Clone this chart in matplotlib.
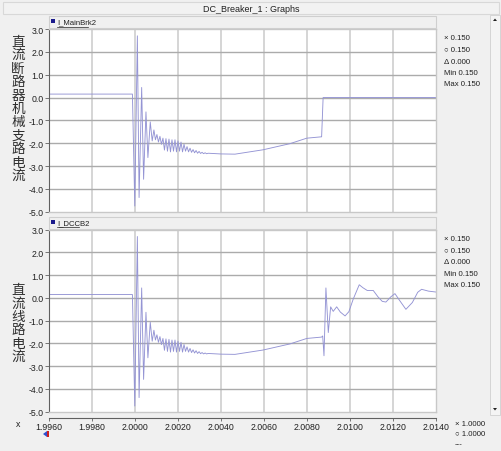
import matplotlib
matplotlib.use("Agg")
import matplotlib.pyplot as plt
from matplotlib.patches import Rectangle, Polygon

W, H = 502, 452
fig = plt.figure(figsize=(W/100, H/100), dpi=100)
fig.patch.set_facecolor('#f0f0f0')

def fx(x):
    return x / W

def fy(y):
    return 1 - y / H

# ---------------- data ----------------
title = "DC_Breaker_1 : Graphs"
xticks = [1.9960, 1.9980, 2.0000, 2.0020, 2.0040, 2.0060, 2.0080, 2.0100, 2.0120, 2.0140]
yticks = [3.0, 2.0, 1.0, 0.0, -1.0, -2.0, -3.0, -4.0, -5.0]
names = ["I_MainBrk2", "I_DCCB2"]
ylabels = ["直流断路器机械支路电流", "直流线路电流"]
info_lines = ["× 0.150", "○ 0.150", "Δ 0.000", "Min 0.150", "Max 0.150"]
x_info = ["× 1.0000", "○ 1.0000", "---"]

# shared part (both currents identical up to breaker action)
t_common = [1.9960, 1.99988, 1.99999, 2.00011, 2.00019, 2.00031, 2.00040, 2.00051,
            2.00060, 2.00071, 2.00080, 2.00088,
            2.00095, 2.00102, 2.00109, 2.00116, 2.00123, 2.00130, 2.00137, 2.00144,
            2.00151, 2.00158, 2.00165, 2.00172, 2.00179, 2.00186, 2.00193, 2.00200,
            2.00207, 2.00214, 2.00221, 2.00228, 2.00235, 2.00242, 2.00249, 2.00256,
            2.00263, 2.00270, 2.00277, 2.00284, 2.00291, 2.00298, 2.00305, 2.00312,
            2.00319, 2.00326, 2.00333, 2.00340, 2.00400, 2.00465, 2.00595, 2.00721,
            2.00799, 2.00868]
i_common = [0.15, 0.15, -4.75, 2.70, -4.38, 0.44, -3.58, -0.63,
            -2.63, -1.07, -1.90, -1.42,
            -1.85, -1.62, -1.95, -1.70, -2.05, -1.78, -2.30, -1.80,
            -2.35, -1.82, -2.38, -1.85, -2.35, -1.85, -2.38, -1.90,
            -2.35, -1.95, -2.38, -2.05, -2.35, -2.15, -2.38, -2.22,
            -2.40, -2.28, -2.42, -2.32, -2.44, -2.36, -2.45, -2.40,
            -2.46, -2.42, -2.46, -2.44, -2.47, -2.48, -2.29, -2.02,
            -1.78, -1.72]

# mechanical branch after commutation
t_mech_tail = [2.00875, 2.01400]
i_mech_tail = [0.0, 0.0]

# line current after breaker action
t_line_tail = [2.00873, 2.00879, 2.00888, 2.00899, 2.00910, 2.00922, 2.00938, 2.00955,
               2.00977, 2.00995, 2.01015, 2.01043, 2.01060, 2.01080, 2.01108, 2.01130,
               2.01150, 2.01167, 2.01190, 2.01209, 2.01230, 2.01260, 2.01290, 2.01315,
               2.01333, 2.01365, 2.01400]
i_line_tail = [-1.67, -2.54, 0.44, -1.52, -0.39, -0.59, -0.39, -0.62,
               -0.79, -0.60, -0.05, 0.58, 0.45, 0.33, 0.33, 0.05,
               -0.15, -0.18, 0.05, 0.19, -0.10, -0.50, -0.20, 0.25,
               0.38, 0.30, 0.26]

series = [(t_common + t_mech_tail, i_common + i_mech_tail),
          (t_common + t_line_tail, i_common + i_line_tail)]

# ---------------- layout ----------------
left_px, right_px = 49, 436
panels = [(30.0, 212.7), (230.7, 412.7)]
label_centers = [109, 323.5]
line_color = '#9494d4'
tick_font = dict(family='Liberation Sans', size=6.3, color='#202020')

# title bar
fig.add_artist(Rectangle((fx(3), fy(15)), fx(496), 12/H, transform=fig.transFigure,
                         facecolor='#f2f2f2', edgecolor='#d8d8d8', lw=0.8))
fig.text(fx(251), fy(9.5), title, ha='center', va='center',
         fontsize=6.5, family='Liberation Sans', color='#202020')

for k, ((top, bot), (tt, ii)) in enumerate(zip(panels, series)):
    ax = fig.add_axes([fx(left_px), fy(bot), fx(right_px - left_px), (bot - top) / H])
    ax.set_facecolor('white')
    ax.plot(tt, ii, color=line_color, lw=0.65)
    ax.set_xlim(xticks[0], xticks[-1])
    ax.set_ylim(-5.0, 3.0)
    ax.set_xticks(xticks)
    ax.set_yticks(yticks)
    ax.set_yticklabels([f"{v:.1f}" for v in yticks], **tick_font)
    ax.tick_params(axis='x', length=0, labelbottom=False)
    ax.tick_params(axis='y', length=3, width=0.6, color='#606060', pad=1)
    for x in xticks[1:-1]:
        ax.axvline(x, color='#d2d2d2', lw=1.3, zorder=0)
    for y in yticks[1:-1]:
        ax.axhline(y, color='#ababab', lw=1.0, zorder=0)
    for s in ['top', 'right', 'bottom']:
        ax.spines[s].set_color('#c8c8c8')
        ax.spines[s].set_linewidth(1.0)
    ax.spines['left'].set_color('#606060')
    ax.spines['left'].set_linewidth(0.8)

    # header bar with trace name
    fig.add_artist(Rectangle((fx(left_px), fy(top - 1)), fx(right_px - left_px), 12/H,
                             transform=fig.transFigure, facecolor='#f0f0f0',
                             edgecolor='#cfcfcf', lw=0.8))
    fig.add_artist(Rectangle((fx(51), fy(top - 6)), fx(4), 4/H, transform=fig.transFigure,
                             facecolor='#1a1a8c', edgecolor='none'))
    fig.text(fx(57), fy(top - 7), names[k], ha='left', va='center', fontsize=5.6,
             family='Liberation Sans', color='#202020')
    fig.add_artist(plt.Line2D([fx(57), fx(57 + 5.6 * len(names[k]) * 0.55)],
                              [fy(top - 2.5), fy(top - 2.5)], transform=fig.transFigure,
                              color='#202020', lw=0.5))

    # vertical Chinese label
    lab = ylabels[k]
    fig.text(fx(18), fy(label_centers[k]), "\n".join(lab), ha='center', va='center',
             fontsize=9.8, family=['Noto Sans CJK SC', 'DejaVu Sans'], color='#303030',
             linespacing=0.95)

    # info panel
    for j, s in enumerate(info_lines):
        fig.text(fx(444), fy(top + 9 + 11.5 * j), s, ha='left', va='center', fontsize=5.6,
                 family='Liberation Sans', color='#202020')

# x axis strip
axx = fig.add_axes([fx(left_px), fy(419.3), fx(right_px - left_px), 0.0001])
axx.set_facecolor('none')
axx.set_xlim(xticks[0], xticks[-1])
axx.set_xticks(xticks)
axx.set_xticklabels([f"{v:.4f}" for v in xticks], **tick_font)
axx.tick_params(axis='x', length=2, width=0.6, color='#606060', pad=0.5)
axx.set_yticks([])
for s in ['top', 'left', 'right']:
    axx.spines[s].set_visible(False)
axx.spines['bottom'].set_color('#606060')
axx.spines['bottom'].set_linewidth(0.8)

fig.text(fx(18), fy(425), "x", ha='center', va='center', fontsize=6.3,
         family='Liberation Sans', color='#202020')
for j, s in enumerate(x_info):
    fig.text(fx(455), fy(425 + 10 * j), s, ha='left', va='center', fontsize=5.6,
             family='Liberation Sans', color='#202020')

# small cursor marker under first tick
fig.add_artist(Polygon([(fx(43), fy(435)), (fx(47), fy(432)), (fx(47), fy(438))],
                       closed=True, transform=fig.transFigure, facecolor='#3050d0', edgecolor='none'))
fig.add_artist(Rectangle((fx(47), fy(438)), fx(2.5), 6/H, transform=fig.transFigure,
                         facecolor='#d02020', edgecolor='none'))

# scrollbar
fig.add_artist(Rectangle((fx(490), fy(416)), fx(10), 400/H, transform=fig.transFigure,
                         facecolor='#f4f4f4', edgecolor='#d0d0d0', lw=0.6))
fig.add_artist(Polygon([(fx(493), fy(22)), (fx(497), fy(22)), (fx(495), fy(19.5))],
                       closed=True, transform=fig.transFigure, facecolor='#202020'))
fig.add_artist(Polygon([(fx(493), fy(409)), (fx(497), fy(409)), (fx(495), fy(411.5))],
                       closed=True, transform=fig.transFigure, facecolor='#202020'))

fig.savefig("out.png", dpi=100, facecolor=fig.get_facecolor())
